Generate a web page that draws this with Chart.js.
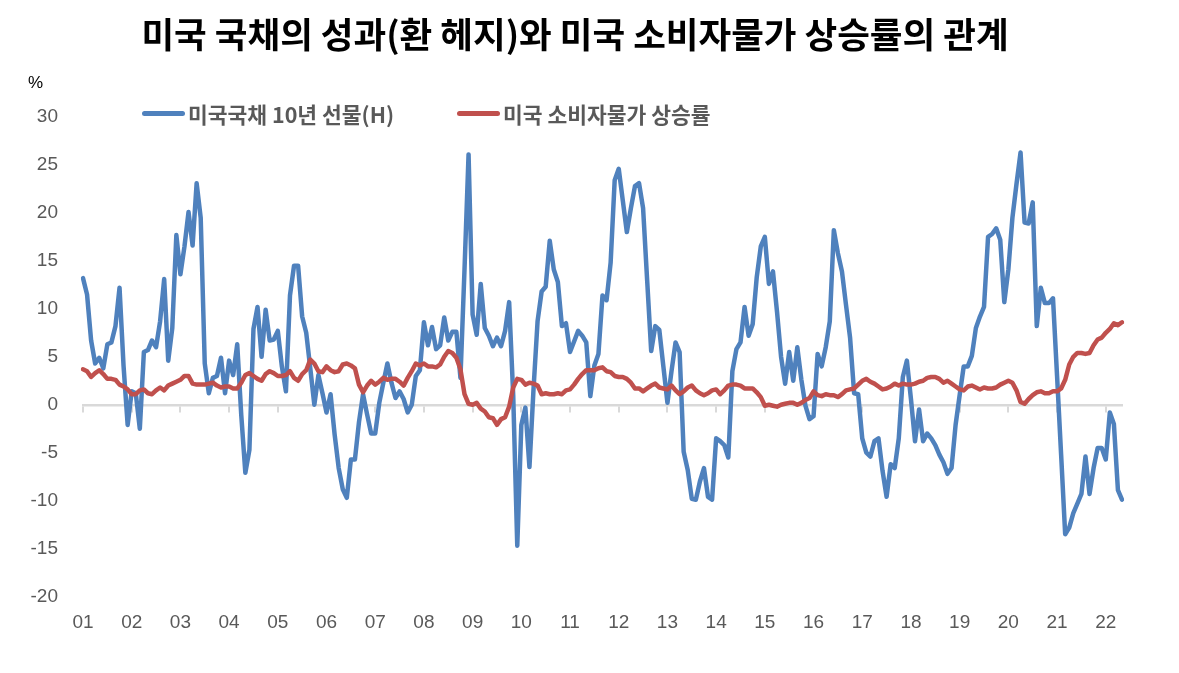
<!DOCTYPE html>
<html>
<head>
<meta charset="utf-8">
<script src="https://cdn.jsdelivr.net/npm/chart.js@4.4.1/dist/chart.umd.min.js"></script>
<style>
  html, body { margin: 0; padding: 0; background: #ffffff; }
  #wrap { position: relative; width: 1179px; height: 673px; overflow: hidden; }
  #c { position: absolute; left: 0; top: 0; }
  #unit { position: absolute; left: 28px; top: 73px; font: 17px 'Liberation Sans', Arial, sans-serif; color: #000; line-height: 19px; }
  .leg { position: absolute; top: 100px; height: 26px; display: flex; align-items: center;
         font: bold 21.5px 'Noto Sans CJK KR', 'Noto Sans', sans-serif; color: #595959; white-space: nowrap; }
  .sw { display: inline-block; width: 43px; height: 5px; border-radius: 3px; margin-right: 3px; }
</style>
</head>
<body>
<div id="wrap">
  <canvas id="c" width="1179" height="673"></canvas>
  <div id="unit">%</div>
  <div class="leg" style="left:142px"><span class="sw" id="sw1"></span><span id="l1"></span></div>
  <div class="leg" style="left:457px"><span class="sw" id="sw2"></span><span id="l2"></span></div>
</div>
<script>
// ---------- data ----------
const chartTitle = '미국 국채의 성과(환 헤지)와 미국 소비자물가 상승률의 관계';
const unitLabel = '%';
const seriesNames = ['미국국채 10년 선물(H)', '미국 소비자물가 상승률'];
const seriesColors = ['#4F81BD', '#C0504D'];
const yearLabels = ['01','02','03','04','05','06','07','08','09','10','11',
                    '12','13','14','15','16','17','18','19','20','21','22'];
const yTickMin = -20, yTickMax = 30, yTickStep = 5;

// 미국국채 10년 선물(H), monthly YoY %, Jan 2001 - May 2022
const bondFutures10y = [
  13.2, 11.5, 6.7, 4.3, 4.9, 3.8, 6.3, 6.5, 8.2, 12.2, 4.0, -2.1,      // 2001
  1.4, 1.2, -2.5, 5.5, 5.7, 6.7, 6.0, 8.7, 13.1, 4.6, 8.0, 17.7,       // 2002
  13.6, 16.5, 20.1, 16.6, 23.1, 19.5, 4.3, 1.2, 2.8, 3.0, 4.9, 1.2,    // 2003
  4.6, 3.1, 6.3, -1.1, -7.1, -4.7, 7.9, 10.2, 5.0, 9.9, 6.7, 6.8,      // 2004
  7.7, 4.0, 1.4, 11.4, 14.5, 14.5, 9.2, 7.5, 3.8, 0.0, 3.1, 1.2,       // 2005
  -0.8, 1.1, -3.1, -6.6, -8.8, -9.7, -5.7, -5.7, -1.8, 1.1, -1.0, -3.0,// 2006
  -3.0, 0.2, 2.3, 4.3, 2.3, 0.7, 1.4, 0.6, -0.8, 0.0, 3.0, 3.6,        // 2007
  8.6, 6.2, 8.1, 5.8, 6.2, 9.1, 6.7, 7.6, 7.6, 2.8, 14.1, 26.1,        // 2008
  9.4, 7.3, 12.6, 8.0, 7.2, 6.1, 7.0, 6.1, 7.7, 10.7, 1.0, -14.7,      // 2009
  -2.1, -0.3, -6.5, 1.6, 8.7, 11.8, 12.3, 17.1, 14.1, 12.8, 8.2, 8.5,  // 2010
  5.5, 6.6, 7.7, 7.2, 6.5, 0.9, 4.1, 5.3, 11.4, 10.9, 14.8, 23.4,      // 2011
  24.6, 21.3, 18.0, 20.5, 22.8, 23.1, 20.5, 13.0, 5.6, 8.2, 7.8, 4.0,  // 2012
  0.2, 3.5, 6.5, 5.5, -4.9, -6.8, -9.8, -9.9, -8.0, -6.6, -9.6, -9.9,  // 2013
  -3.5, -3.8, -4.2, -5.5, 3.5, 5.8, 6.5, 10.2, 7.2, 8.4, 13.3, 16.5,   // 2014
  17.5, 12.6, 13.9, 9.7, 5.0, 2.2, 5.5, 2.5, 6.0, 2.6, -0.1, -1.5,     // 2015
  -1.2, 5.3, 4.0, 6.0, 8.7, 18.2, 15.8, 13.9, 10.4, 7.0, 1.2, 1.1,     // 2016
  -3.5, -5.0, -5.4, -3.8, -3.5, -6.9, -9.6, -6.2, -6.6, -3.5, 2.9, 4.6,// 2017
  0.6, -3.8, -0.5, -3.8, -3.0, -3.5, -4.2, -5.2, -6.0, -7.2, -6.6, -2.1,// 2018
  1.0, 4.0, 4.0, 5.1, 8.0, 9.2, 10.2, 17.5, 17.8, 18.4, 17.2, 10.7,    // 2019
  14.1, 19.5, 23.0, 26.3, 19.0, 18.9, 21.1, 8.2, 12.2, 10.6, 10.6, 11.1,// 2020
  3.0, -5.2, -13.5, -12.8, -11.3, -10.3, -9.3, -5.4, -9.3, -6.6, -4.5, -4.5, // 2021
  -5.7, -0.8, -2.0, -8.9, -9.9                                          // 2022
];

// 미국 소비자물가 상승률, monthly YoY %, Jan 2001 - May 2022
const usCpiYoY = [
  3.7, 3.5, 2.9, 3.3, 3.6, 3.2, 2.7, 2.7, 2.6, 2.1, 1.9, 1.6,   // 2001
  1.1, 1.1, 1.5, 1.6, 1.2, 1.1, 1.5, 1.8, 1.5, 2.0, 2.2, 2.4,   // 2002
  2.6, 3.0, 3.0, 2.2, 2.1, 2.1, 2.1, 2.2, 2.3, 2.0, 1.8, 1.9,   // 2003
  1.9, 1.7, 1.7, 2.3, 3.1, 3.3, 3.0, 2.7, 2.5, 3.2, 3.5, 3.3,   // 2004
  3.0, 3.0, 3.1, 3.5, 2.8, 2.5, 3.2, 3.6, 4.7, 4.3, 3.5, 3.4,   // 2005
  4.0, 3.6, 3.4, 3.5, 4.2, 4.3, 4.1, 3.8, 2.1, 1.3, 2.0, 2.5,   // 2006
  2.1, 2.4, 2.8, 2.6, 2.7, 2.7, 2.4, 2.0, 2.8, 3.5, 4.3, 4.1,   // 2007
  4.3, 4.0, 4.0, 3.9, 4.2, 5.0, 5.6, 5.4, 4.9, 3.7, 1.1, 0.1,   // 2008
  0.0, 0.2, -0.4, -0.7, -1.3, -1.4, -2.1, -1.5, -1.3, -0.2, 1.8, 2.7, // 2009
  2.6, 2.1, 2.3, 2.2, 2.0, 1.1, 1.2, 1.1, 1.1, 1.2, 1.1, 1.5,   // 2010
  1.6, 2.1, 2.7, 3.2, 3.6, 3.6, 3.6, 3.8, 3.9, 3.5, 3.4, 3.0,   // 2011
  2.9, 2.9, 2.7, 2.3, 1.7, 1.7, 1.4, 1.7, 2.0, 2.2, 1.8, 1.7,   // 2012
  1.6, 2.0, 1.5, 1.1, 1.4, 1.8, 2.0, 1.5, 1.2, 1.0, 1.2, 1.5,   // 2013
  1.6, 1.1, 1.5, 2.0, 2.1, 2.1, 2.0, 1.7, 1.7, 1.7, 1.3, 0.8,   // 2014
  -0.1, 0.0, -0.1, -0.2, 0.0, 0.1, 0.2, 0.2, 0.0, 0.2, 0.5, 0.7,// 2015
  1.4, 1.0, 0.9, 1.1, 1.0, 1.0, 0.8, 1.1, 1.5, 1.6, 1.7, 2.1,   // 2016
  2.5, 2.7, 2.4, 2.2, 1.9, 1.6, 1.7, 1.9, 2.2, 2.0, 2.2, 2.1,   // 2017
  2.1, 2.2, 2.4, 2.5, 2.8, 2.9, 2.9, 2.7, 2.3, 2.5, 2.2, 1.9,   // 2018
  1.6, 1.5, 1.9, 2.0, 1.8, 1.6, 1.8, 1.7, 1.7, 1.8, 2.1, 2.3,   // 2019
  2.5, 2.3, 1.5, 0.3, 0.1, 0.6, 1.0, 1.3, 1.4, 1.2, 1.2, 1.4,   // 2020
  1.4, 1.7, 2.6, 4.2, 5.0, 5.4, 5.4, 5.3, 5.4, 6.2, 6.8, 7.0,   // 2021
  7.5, 7.9, 8.5, 8.3, 8.6                                       // 2022
];

// monthly category labels built from the year tick labels
const monthLabels = [];
yearLabels.forEach(function (yy) {
  for (let m = 1; m <= 12; m++) monthLabels.push(yy + '-' + String(m).padStart(2, '0'));
});
monthLabels.length = bondFutures10y.length;

// ---------- html legend / unit ----------
document.getElementById('unit').textContent = unitLabel;
document.getElementById('l1').textContent = seriesNames[0];
document.getElementById('l2').textContent = seriesNames[1];
document.getElementById('sw1').style.background = seriesColors[0];
document.getElementById('sw2').style.background = seriesColors[1];

const tickFont = "'Liberation Sans Narrow', 'Arial Narrow', 'Liberation Sans', Arial, sans-serif";

new Chart(document.getElementById('c'), {
  type: 'line',
  data: {
    labels: monthLabels,
    datasets: [
      { label: seriesNames[0], data: bondFutures10y, borderColor: seriesColors[0], backgroundColor: seriesColors[0],
        borderWidth: 4.5, pointRadius: 0, tension: 0, order: 2, borderJoinStyle: 'round', borderCapStyle: 'round', fill: false },
      { label: seriesNames[1], data: usCpiYoY, borderColor: seriesColors[1], backgroundColor: seriesColors[1],
        borderWidth: 4.5, pointRadius: 0, tension: 0, order: 1, borderJoinStyle: 'round', borderCapStyle: 'round', fill: false }
    ]
  },
  options: {
    responsive: false,
    animation: false,
    events: [],
    layout: { padding: { left: 28, right: 57, top: 0, bottom: 24 } },
    plugins: {
      legend: { display: false },
      tooltip: { enabled: false },
      title: {
        display: true,
        text: chartTitle,
        color: '#000000',
        font: { family: "'Noto Sans CJK KR', 'Noto Sans', sans-serif", size: 35.5, weight: 'bold', lineHeight: 1.2 },
        padding: { top: 13.7, bottom: 60.7 }
      }
    },
    scales: {
      x: {
        type: 'category',
        position: 'bottom',
        grid: { display: false, drawTicks: false },
        border: { display: false },
        ticks: {
          autoSkip: false, maxRotation: 0, minRotation: 0, padding: 14.8,
          color: '#595959', font: { family: tickFont, size: 19 },
          callback: function (v, i) { return i % 12 === 0 ? yearLabels[i / 12] : ''; }
        }
      },
      xz: {
        type: 'category',
        axis: 'x',
        position: { y: 0 },
        grid: {
          drawOnChartArea: false, drawTicks: true, tickLength: 6, lineWidth: 2,
          color: function (c) { return c.index % 12 === 0 ? '#D9D9D9' : 'rgba(0,0,0,0)'; }
        },
        border: { display: true, color: '#D9D9D9', width: 2.5 },
        ticks: { display: false, autoSkip: false }
      },
      y: {
        min: yTickMin, max: yTickMax,
        grid: { display: false, drawTicks: false },
        border: { display: false },
        ticks: { stepSize: yTickStep, padding: 25, color: '#595959', font: { family: tickFont, size: 19 } },
        afterFit: function (s) { s.width = 55; }
      }
    }
  }
});
</script>
</body>
</html>
